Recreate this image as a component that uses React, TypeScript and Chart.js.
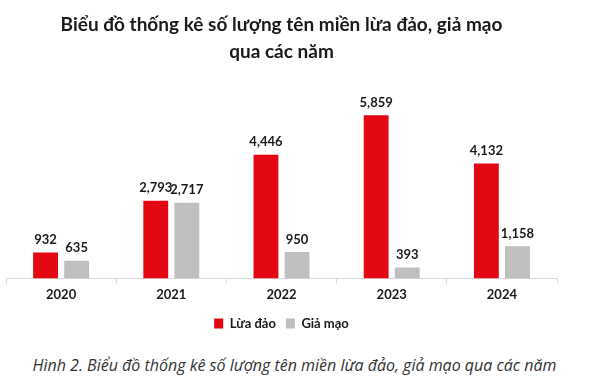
import React, { useEffect, useRef } from "react";
import { Chart, registerables } from "chart.js";

Chart.register(...registerables);

const categories = ["2020", "2021", "2022", "2023", "2024"];
const luaDao = [932, 2793, 4446, 5859, 4132];
const giaMao = [635, 2717, 950, 393, 1158];
const seriesNames = ["Lừa đảo", "Giả mạo"];
const titleLines = ["Biểu đồ thống kê số lượng tên miền lừa đảo, giả mạo", "qua các năm"];
const caption = "Hình 2. Biểu đồ thống kê số lượng tên miền lừa đảo, giả mạo qua các năm";

const FONT = "Lato, 'Open Sans', sans-serif";
const CAPFONT = "'Open Sans', 'Noto Sans', sans-serif";

const valueLabels = {
  id: "valueLabels",
  afterDatasetsDraw(chart: any) {
    const ctx = chart.ctx;
    ctx.save();
    ctx.font = `bold 13px ${FONT}`;
    ctx.fillStyle = "#1a1a1a";
    ctx.textAlign = "center";
    ctx.textBaseline = "bottom";
    chart.data.datasets.forEach((ds: any, i: number) => {
      const meta = chart.getDatasetMeta(i);
      meta.data.forEach((bar: any, j: number) => {
        const v = ds.data[j];
        ctx.fillText(v.toLocaleString("en-US"), bar.x, bar.y - 6);
      });
    });
    ctx.restore();
  },
};

export default function App() {
  const ref = useRef<HTMLCanvasElement | null>(null);
  useEffect(() => {
    if (!ref.current) return;
    const chart = new Chart(ref.current, {
      type: "bar",
      data: {
        labels: categories,
        datasets: [
          { label: seriesNames[0], data: luaDao, backgroundColor: "#e30613", categoryPercentage: 0.564, barPercentage: 0.8 },
          { label: seriesNames[1], data: giaMao, backgroundColor: "#bfbfbf", categoryPercentage: 0.564, barPercentage: 0.8 },
        ],
      },
      options: {
        responsive: false,
        animation: false,
        layout: { padding: { left: 6, right: 32, top: 0, bottom: 0 } },
        plugins: {
          title: {
            display: true,
            text: titleLines,
            color: "#1a1a1a",
            font: { family: FONT, size: 19, weight: "bold", lineHeight: 1.4 },
            padding: { top: 12, bottom: 10 },
          },
          legend: {
            position: "bottom",
            labels: {
              boxWidth: 9,
              boxHeight: 10,
              padding: 10,
              color: "#1a1a1a",
              font: { family: FONT, size: 13, weight: "bold" },
            },
          },
          tooltip: { enabled: false },
        },
        scales: {
          x: {
            grid: { display: true, drawOnChartArea: false, drawTicks: true, tickLength: 5, color: "#d9d9d9", offset: true },
            border: { color: "#d9d9d9" },
            ticks: { color: "#1a1a1a", font: { family: FONT, size: 13, weight: "bold" }, padding: 4 },
          },
          y: { display: false, min: 0, max: 7300 },
        },
      },
      plugins: [valueLabels],
    });
    return () => chart.destroy();
  }, []);
  return (
    <div style={{ position: "absolute", left: 0, top: 0, width: 589, height: 382, background: "#fff" }}>
      <canvas ref={ref} width={589} height={340} style={{ position: "absolute", left: 0, top: 0 }} />
      <div
        style={{
          position: "absolute",
          left: 0,
          top: 354,
          width: 589,
          textAlign: "center",
          fontFamily: CAPFONT,
          fontStyle: "italic",
          fontSize: 16,
          color: "#333",
        }}
      >
        {caption}
      </div>
    </div>
  );
}
